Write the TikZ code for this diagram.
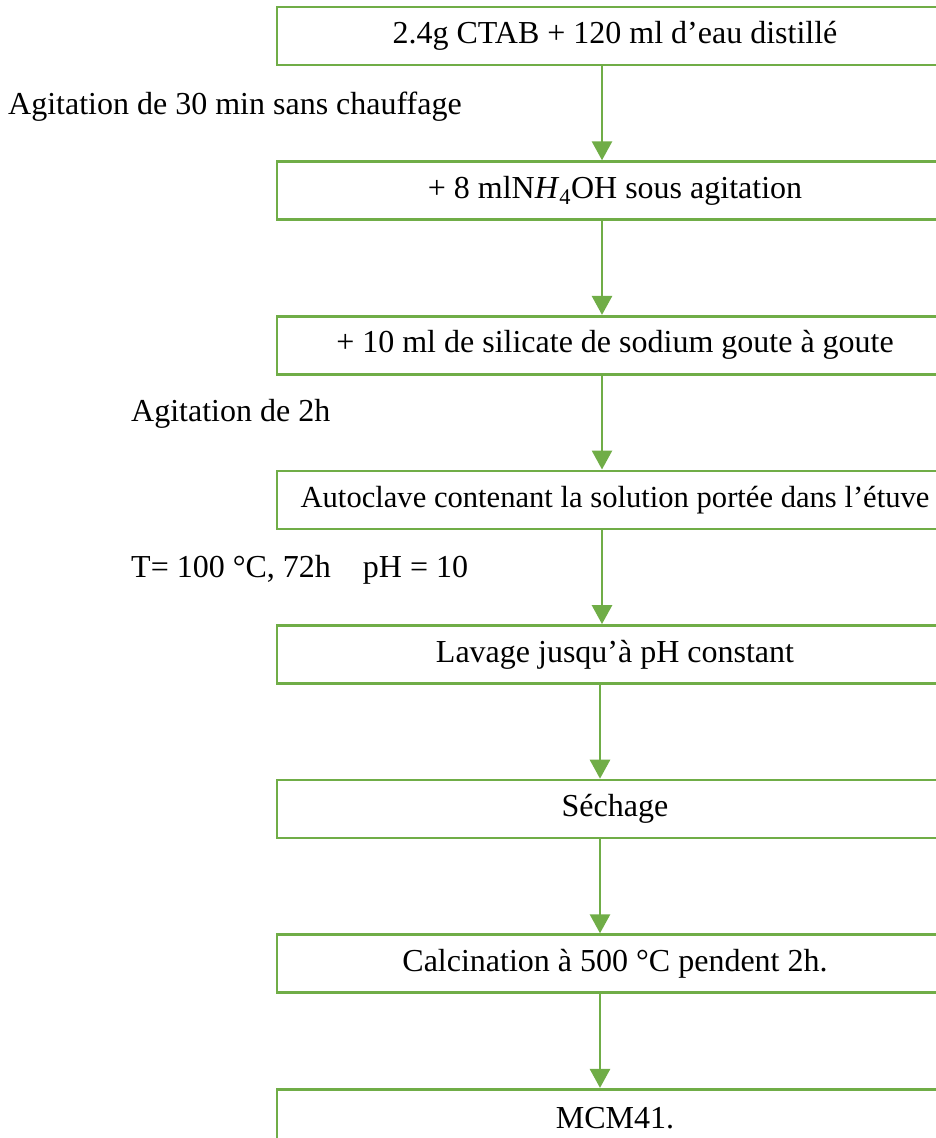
\documentclass[tikz,border=0pt]{standalone}
\usepackage{fontspec}
\setmainfont{Liberation Serif}
\usepackage{tikz}
\usetikzlibrary{positioning, arrows.meta}
\definecolor{stepgreen}{HTML}{70AD47}

\begin{document}
\begin{tikzpicture}[
    x=1pt, y=-1pt,
    node distance=94pt,
    font=\fontsize{32}{38}\selectfont,
    box/.style={
        rectangle,
        draw=stepgreen,
        line width=2.6pt,
        minimum width=676pt,
        minimum height=58pt,
        inner sep=2pt
    },
    note/.style={anchor=west, inner sep=0pt},
    arrow/.style={draw=stepgreen, line width=2.8pt, -{Triangle[width=20pt,length=19pt]}, fill=stepgreen}
]
\useasboundingbox (0,0) rectangle (936,1138);
\clip (0,0) rectangle (936,1138);

\node[box] (b1) at (615,36) {2.4g CTAB + 120 ml d’eau distillé};
\node[box] (b2) [below=of b1] {+ 8 mlN\textit{H}\textsubscript{4}OH sous agitation};
\node[box] (b3) [below=of b2] {+ 10 ml de silicate de sodium goute à goute};
\node[box, font=\fontsize{30.6}{36}\selectfont] (b4) [below=of b3] {Autoclave contenant la solution portée dans l’étuve};
\node[box] (b5) [below=of b4] {Lavage jusqu’à pH constant};
\node[box] (b6) [below=of b5] {Séchage};
\node[box] (b7) [below=of b6] {Calcination à 500 °C pendent 2h.};
\node[box] (b8) [below=of b7] {MCM41.};

\node[note] (n1) at (8,107) {Agitation de 30 min sans chauffage};
\node[note] (n2) at (131,414) {Agitation de 2h};
\node[note] (n3) at (131,570) {T= 100 °C, 72h\quad pH = 10};

\draw[arrow] ([xshift=-13pt]b1.south) -- ([xshift=-13pt]b2.north);
\draw[arrow] ([xshift=-13pt]b2.south) -- ([xshift=-13pt]b3.north);
\draw[arrow] ([xshift=-13pt]b3.south) -- ([xshift=-13pt]b4.north);
\draw[arrow] ([xshift=-13pt]b4.south) -- ([xshift=-13pt]b5.north);
\draw[arrow] ([xshift=-15pt]b5.south) -- ([xshift=-15pt]b6.north);
\draw[arrow] ([xshift=-15pt]b6.south) -- ([xshift=-15pt]b7.north);
\draw[arrow] ([xshift=-15pt]b7.south) -- ([xshift=-15pt]b8.north);

\end{tikzpicture}
\end{document}
